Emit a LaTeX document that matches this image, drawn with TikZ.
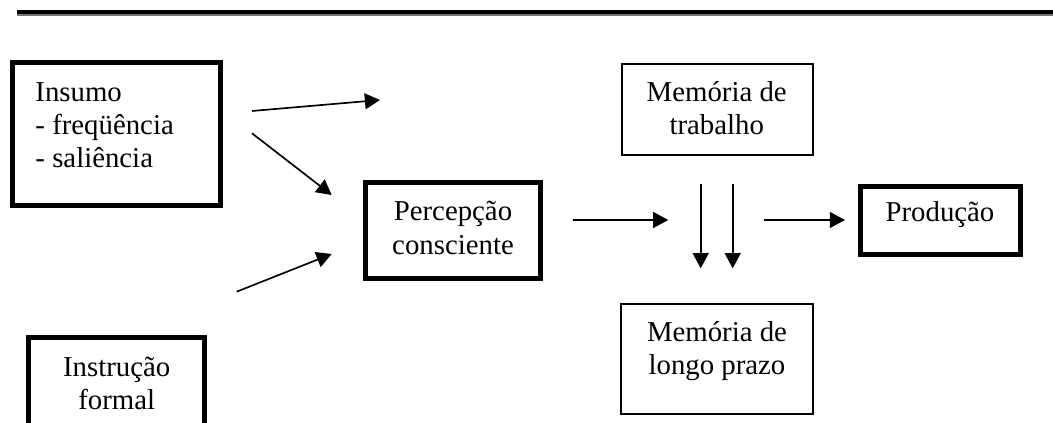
\documentclass[tikz,border=0pt]{standalone}
\usepackage{fontspec}
\setmainfont{Liberation Serif}
\usetikzlibrary{arrows.meta}
\newcommand\pxu{0.41667pt}

\begin{document}
\begin{tikzpicture}[x=\pxu, y=-\pxu,
    thickbox/.style={draw, line width=2.1pt, inner sep=0pt, outer sep=0pt},
    thinbox/.style={draw, line width=0.8pt, inner sep=0pt, outer sep=0pt},
    txt/.style={inner sep=0pt, align=center, font=\fontsize{12}{13.8}\selectfont},
    arr/.style={-{Triangle[length=6.3pt, width=6.6pt]}, line width=0.7pt}]
    \useasboundingbox (0,0) rectangle (1053,423);
    \clip (0,0) rectangle (1053,423);

    % Page rule (thick-thin)
    \draw[line width=1.7pt] (17,12) -- (1053,12);
    \draw[line width=0.45pt, black!55] (17,15) -- (1053,15);

    % Boxes
    \node[thickbox, minimum width=208*\pxu, minimum height=143*\pxu] (insumo) at (116.5,134) {};
    \node[thickbox, minimum width=175.7*\pxu, minimum height=102.5*\pxu] (instr) at (116.7,388.8) {};
    \node[thickbox, minimum width=175*\pxu, minimum height=96*\pxu] (perc) at (453,230.5) {};
    \node[thinbox, minimum width=191.3*\pxu, minimum height=90.7*\pxu] (mwork) at (717.3,109.7) {};
    \node[thinbox, minimum width=192*\pxu, minimum height=109.4*\pxu] (mltm) at (717,359) {};
    \node[thickbox, minimum width=160*\pxu, minimum height=68*\pxu] (prod) at (940.8,220.5) {};

    % Texts
    \node[txt, align=left, anchor=west] (insumotxt) at (35,125.6) {Insumo\\- freqüência\\- saliência};
    \node[txt] (instrtxt) at (116.7,383.8) {Instrução\\formal};
    \node[txt] (perctxt) at (453,228) {Percepção\\consciente};
    \node[txt] (mworktxt) at (716.7,108.5) {Memória de\\trabalho};
    \node[txt] (mltmtxt) at (717,351.4) {Memória de\\longo prazo};
    \node[txt] (prodtxt) at (940,215) {Produção};

    % Arrow ends
    \coordinate (a1s) at (252,111);
    \coordinate (a1e) at (380,100);
    \coordinate (a2s) at (252,133.3);
    \coordinate (a2e) at (331.7,195);
    \coordinate (a3s) at (236.7,291.7);
    \coordinate (a3e) at (331.7,254);
    \coordinate (a4s) at (572.7,220);
    \coordinate (a4e) at (668.3,220);
    \coordinate (a5s) at (700.7,184);
    \coordinate (a5e) at (700.7,268.3);
    \coordinate (a6s) at (732.7,184);
    \coordinate (a6e) at (732.7,268.3);
    \coordinate (a7s) at (764,220);
    \coordinate (a7e) at (845,220);

    % Arrows
    \draw[arr] (a1s) -- (a1e);
    \draw[arr] (a2s) -- (a2e);
    \draw[arr] (a3s) -- (a3e);
    \draw[arr] (a4s) -- (a4e);
    \draw[arr] (a5s) -- (a5e);
    \draw[arr] (a6s) -- (a6e);
    \draw[arr] (a7s) -- (a7e);
\end{tikzpicture}
\end{document}
